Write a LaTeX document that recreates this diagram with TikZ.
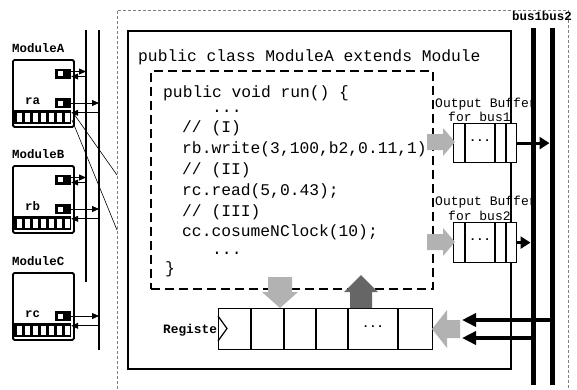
\documentclass[tikz,border=0pt]{standalone}
\usepackage{fontspec}
\setmonofont{Liberation Mono}
\usetikzlibrary{arrows.meta}
\begin{document}
\begin{tikzpicture}[x=1pt,y=-1pt,
  code/.style={font=\ttfamily\fontsize{16.3}{18}\selectfont, anchor=base west, inner sep=0pt},
  modlbl/.style={font=\ttfamily\bfseries\fontsize{12.4}{14}\selectfont, anchor=base west, inner sep=0pt},
  buflbl/.style={font=\ttfamily\fontsize{13}{15}\selectfont, anchor=base west, inner sep=0pt},
  reglbl/.style={font=\ttfamily\bfseries\fontsize{12.8}{15}\selectfont, anchor=base west, inner sep=0pt},
  dots/.style={font=\ttfamily\bfseries\fontsize{12}{14}\selectfont, inner sep=0pt},
  modbox/.style={draw, line width=1.8pt, rounded corners=1.5pt, anchor=north west, minimum width=61pt, minimum height=67pt, inner sep=0pt},
  port/.style={fill=black, minimum width=16pt, minimum height=10pt, inner sep=0pt,
    path picture={\fill[white] ([shift={(-5pt,-2.5pt)}]path picture bounding box.center) rectangle ++(5pt,5pt);}},
  regsmall/.style={fill=black, minimum width=57pt, minimum height=14pt, inner sep=0pt,
    path picture={\foreach \i in {0,...,6}{\fill[white] ([shift={(\i*8pt-26pt,-4.5pt)}]path picture bounding box.center) rectangle ++(5.5pt,9pt);}}},
  tarr/.style={line width=0.8pt, -{Triangle[length=7pt,width=6pt]}},
  vline/.style={line width=1.8pt},
  bus/.style={line width=5pt},
  outarr/.style={line width=2.8pt, -{Triangle[length=10pt,width=12pt]}},
  inarr/.style={line width=3.5pt, -{Triangle[length=14pt,width=13pt]}},
  garrow/.style={fill=gray!60},
  garrowdark/.style={fill=gray!80!black},
  cellbox/.style={draw, fill=white, line width=1.2pt, anchor=north west, inner sep=0pt},
  cellline/.style={line width=1.2pt},
  outerbox/.style={densely dashed, line width=0.5pt, gray},
  solidbox/.style={draw, line width=1.8pt, anchor=north west, inner sep=0pt},
  dashbox/.style={draw, line width=2.2pt, dash pattern=on 9pt off 5pt, anchor=north west, inner sep=0pt},
  zoomline/.style={line width=0.6pt}
]
\useasboundingbox (0,0) rectangle (577,389);

% outer dotted frame
\coordinate (obl) at (117,389);
\coordinate (otl) at (117,10);
\coordinate (otr) at (568,10);
\coordinate (obr) at (568,389);
\draw[outerbox] (obl) -- (otl) -- (otr) -- (obr);

% left bus lines
\coordinate (L1top) at (86,30);
\coordinate (L1bot) at (86,282);
\coordinate (L2top) at (99,30);
\coordinate (L2bot) at (99,350);
\draw[vline] (L1top) -- (L1bot);
\draw[vline] (L2top) -- (L2bot);

% modules
\foreach \m/\t/\r/\p in {A/59/ra/1,B/165/rb/1,C/272/rc/0}{
  \node[modbox] (mod\m) at (12,\t) {};
  \node[modlbl] (lab\m) at (12,\t-7) {Module\m};
  \node[modlbl] (r\m) at (25,\t+45) {\r};
  \node[port] (ptb\m) at (63,\t+44) {};
  \node[regsmall] (reg\m) at (42.5,\t+58) {};
  \coordinate (o\m) at (ptb\m.east);
  \draw[tarr] (o\m) -- (o\m -| L2top);
  \coordinate (q\m) at ([yshift=-3pt]reg\m.north east);
  \draw[tarr] (q\m -| L2top) -- (q\m);
  \ifnum\p=1
    \node[port] (pta\m) at (63,\t+14.5) {};
    \coordinate (u\m) at ([yshift=2pt]pta\m.east);
    \coordinate (d\m) at ([yshift=-3pt]pta\m.east);
    \draw[tarr] (u\m) -- (u\m -| L1top);
    \draw[tarr] (d\m -| L1top) -- (d\m);
  \fi
}

% zoom lines
\coordinate (zs1) at (74,114);
\coordinate (ze1) at (117,175);
\coordinate (zs2) at (72,120);
\coordinate (ze2) at (117,230);
\draw[zoomline] (zs1) -- (ze1);
\draw[zoomline] (zs2) -- (ze2);

% class box
\node[solidbox, minimum width=383pt, minimum height=338pt] (cls) at (127,30) {};
\node[code] (title) at (138,61) {public class ModuleA extends Module};
\node[dashbox, minimum width=282pt, minimum height=218pt] (run) at (150,70) {};

\node[code] (c1) at (163,97) {public void run() \{};
\node[code] (c2) at (212,112) {...};
\node[code] (c3) at (182,132) {// (I)};
\node[code] (c4) at (182,153) {rb.write(3,100,b2,0.11,1)};
\node[code] (c5) at (182,174) {// (II)};
\node[code] (c6) at (182,195) {rc.read(5,0.43);};
\node[code] (c7) at (182,216) {// (III)};
\node[code] (c8) at (182,236) {cc.cosumeNClock(10);};
\node[code] (c9) at (212,254) {...};
\node[code] (c10) at (165,273) {\}};

% buses
\coordinate (b1top) at (533,28);
\coordinate (b1bot) at (533,385);
\coordinate (b2top) at (552,28);
\coordinate (b2bot) at (552,385);
\node[modlbl] (buslbl) at (512,20) {bus1bus2};

% output buffers
\node[buflbl] (ob1a) at (435,107) {Output Buffer};
\node[buflbl] (ob1b) at (448,121) {for bus1};
\node[buflbl] (ob2a) at (435,205) {Output Buffer};
\node[buflbl] (ob2b) at (448,220) {for bus2};

\node[cellbox, minimum width=63pt, minimum height=39pt] (buf1) at (453,123) {};
\node[cellbox, minimum width=63pt, minimum height=40pt] (buf2) at (453,222) {};
\foreach \x in {465,495,506}{
  \draw[cellline] (\x,123) -- (\x,162);
  \draw[cellline] (\x,222) -- (\x,262);
}
\node[dots] (bd1) at (480,141) {...};
\node[dots] (bd2) at (480,240) {...};

\draw[bus] (b1top) -- (b1bot);
\draw[bus] (b2top) -- (b2bot);

\coordinate (t1) at ([xshift=-2.5pt]buf1.east -| b2top);
\coordinate (t2) at ([xshift=-2.5pt]buf2.east -| b1top);
\draw[outarr] (buf1.east) -- (t1);
\draw[outarr] (buf2.east) -- (t2);

% gray arrows buffers
\fill[garrow] (427,134) -- (443,134) -- (443,128) -- (455,142) -- (443,156) -- (443,150) -- (427,150) -- cycle;
\fill[garrow] (427,234) -- (443,234) -- (443,228) -- (455,242) -- (443,256) -- (443,250) -- (427,250) -- cycle;

% register
\node[reglbl] (reglab) at (163,333) {Register};
\node[cellbox, minimum width=214pt, minimum height=41pt] (breg) at (218,308) {};
\foreach \x in {251,284,316,348,398}{
  \draw[cellline] (\x,308) -- (\x,349);
}
\draw[cellline] (218,316) -- (227,328.5) -- (218,341);
\node[dots] (rd) at (373,327) {...};

% gray arrows register
\fill[garrow] (268,277) -- (292,277) -- (292,292) -- (298,292) -- (280,308) -- (262,292) -- (268,292) -- cycle;
\fill[garrowdark] (350,308) -- (372,308) -- (372,292) -- (378,292) -- (361,275) -- (344,292) -- (350,292) -- cycle;
\fill[garrow] (460,320) -- (447,320) -- (447,310) -- (432,329) -- (447,348) -- (447,338) -- (460,338) -- cycle;

% bus to register
\coordinate (ri1) at (462,320);
\coordinate (ri2) at (462,338);
\draw[inarr] (ri1 -| b2top) -- (ri1);
\draw[inarr] (ri2 -| b1top) -- (ri2);
\end{tikzpicture}
\end{document}
